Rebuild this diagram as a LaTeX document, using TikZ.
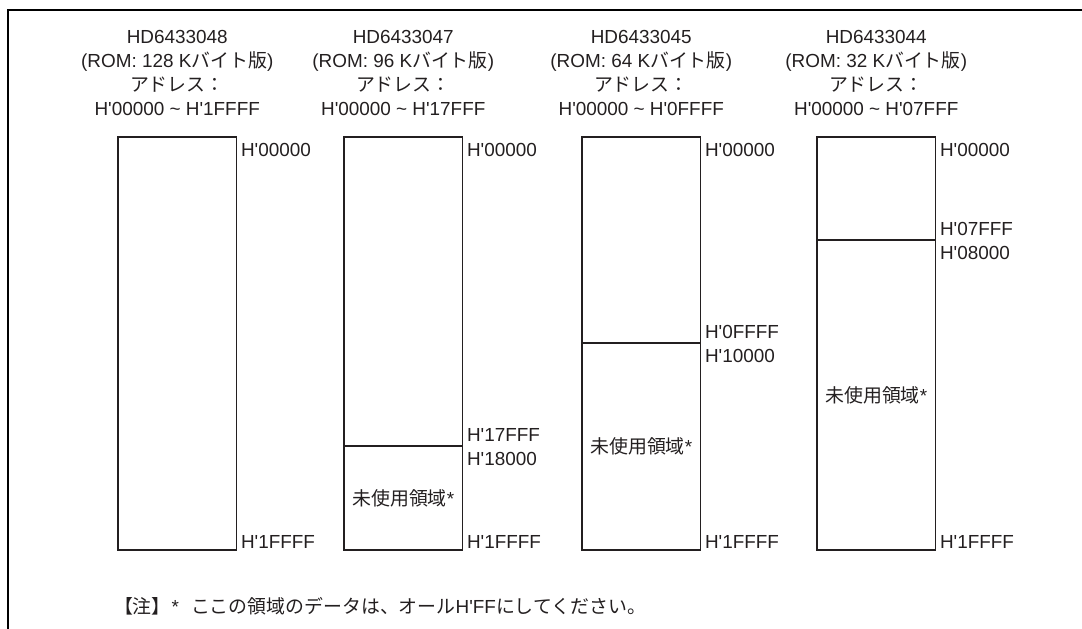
\documentclass[tikz,border=0pt]{standalone}
\usepackage{fontspec}
\usetikzlibrary{calc}
\newfontfamily\lat{Liberation Sans}
\newfontfamily\jp{Noto Sans CJK JP}
\definecolor{ink}{RGB}{35,31,32}
\begin{document}
\begin{tikzpicture}[x=1pt,y=-1pt,
  every node/.style={inner sep=0pt, outer sep=0pt, text=ink, font=\lat\fontsize{18.9}{24}\selectfont},
  membox/.style={draw=ink, line width=1.2pt, anchor=north west, minimum width=118.5pt, minimum height=413pt},
  divline/.style={draw=ink, line width=1.2pt},
  addr/.style={anchor=base west},
  hdr/.style={anchor=base},
  frameline/.style={draw=black, line width=2.2pt}]
\useasboundingbox (0,0) rectangle (1082,629);
% frame
\coordinate (fr1) at (1082,10);
\coordinate (fr2) at (8,10);
\coordinate (fr3) at (8,629);
\draw[frameline] (fr1) -- (fr2) -- (fr3);
% columns
\foreach \i/\xl/\model/\rom/\last in {1/118/HD6433048/128/1FFFF, 2/344/HD6433047/96/17FFF, 3/582/HD6433045/64/0FFFF, 4/817/HD6433044/32/07FFF}{
  \node[membox] (b\i) at (\xl,137) {};
  \node[hdr] (ha\i) at ($(b\i.north)+(0,-94)$) {\model};
  \node[hdr] (hb\i) at ($(b\i.north)+(0,-70)$) {(ROM: \rom\ K{\jp バイト版})};
  \node[hdr] (hc\i) at ($(b\i.north)+(0,-46)$) {{\jp アドレス：}};
  \node[hdr] (hd\i) at ($(b\i.north)+(0,-22)$) {H'00000 \textasciitilde\ H'\last};
  \node[addr] (lt\i) at ($(b\i.north east)+(4.5,19.5)$) {H'00000};
  \node[addr] (lb\i) at ($(b\i.south east)+(4.5,-1.5)$) {H'1FFFF};
}
% dividers
\foreach \i/\yd/\lo/\hi in {2/446/17FFF/18000, 3/343/0FFFF/10000, 4/240/07FFF/08000}{
  \coordinate (d\i) at (0,\yd);
  \draw[divline] (d\i -| b\i.west) -- (d\i -| b\i.east);
  \node[addr] (lu\i) at ($(d\i -| b\i.east)+(4.5,-5)$) {H'\lo};
  \node[addr] (ll\i) at ($(d\i -| b\i.east)+(4.5,19.5)$) {H'\hi};
  \node (u\i) at ($(d\i -| b\i.center)!0.5!(b\i.south)$) {{\jp 未使用領域}*};
}
% note
\node[anchor=base west] (note) at (114,613) {{\jp 【注】}\hspace{1pt}*\hspace{12pt}{\jp ここの領域のデータは、オール}H'FF{\jp にしてください。}};
\end{tikzpicture}
\end{document}
